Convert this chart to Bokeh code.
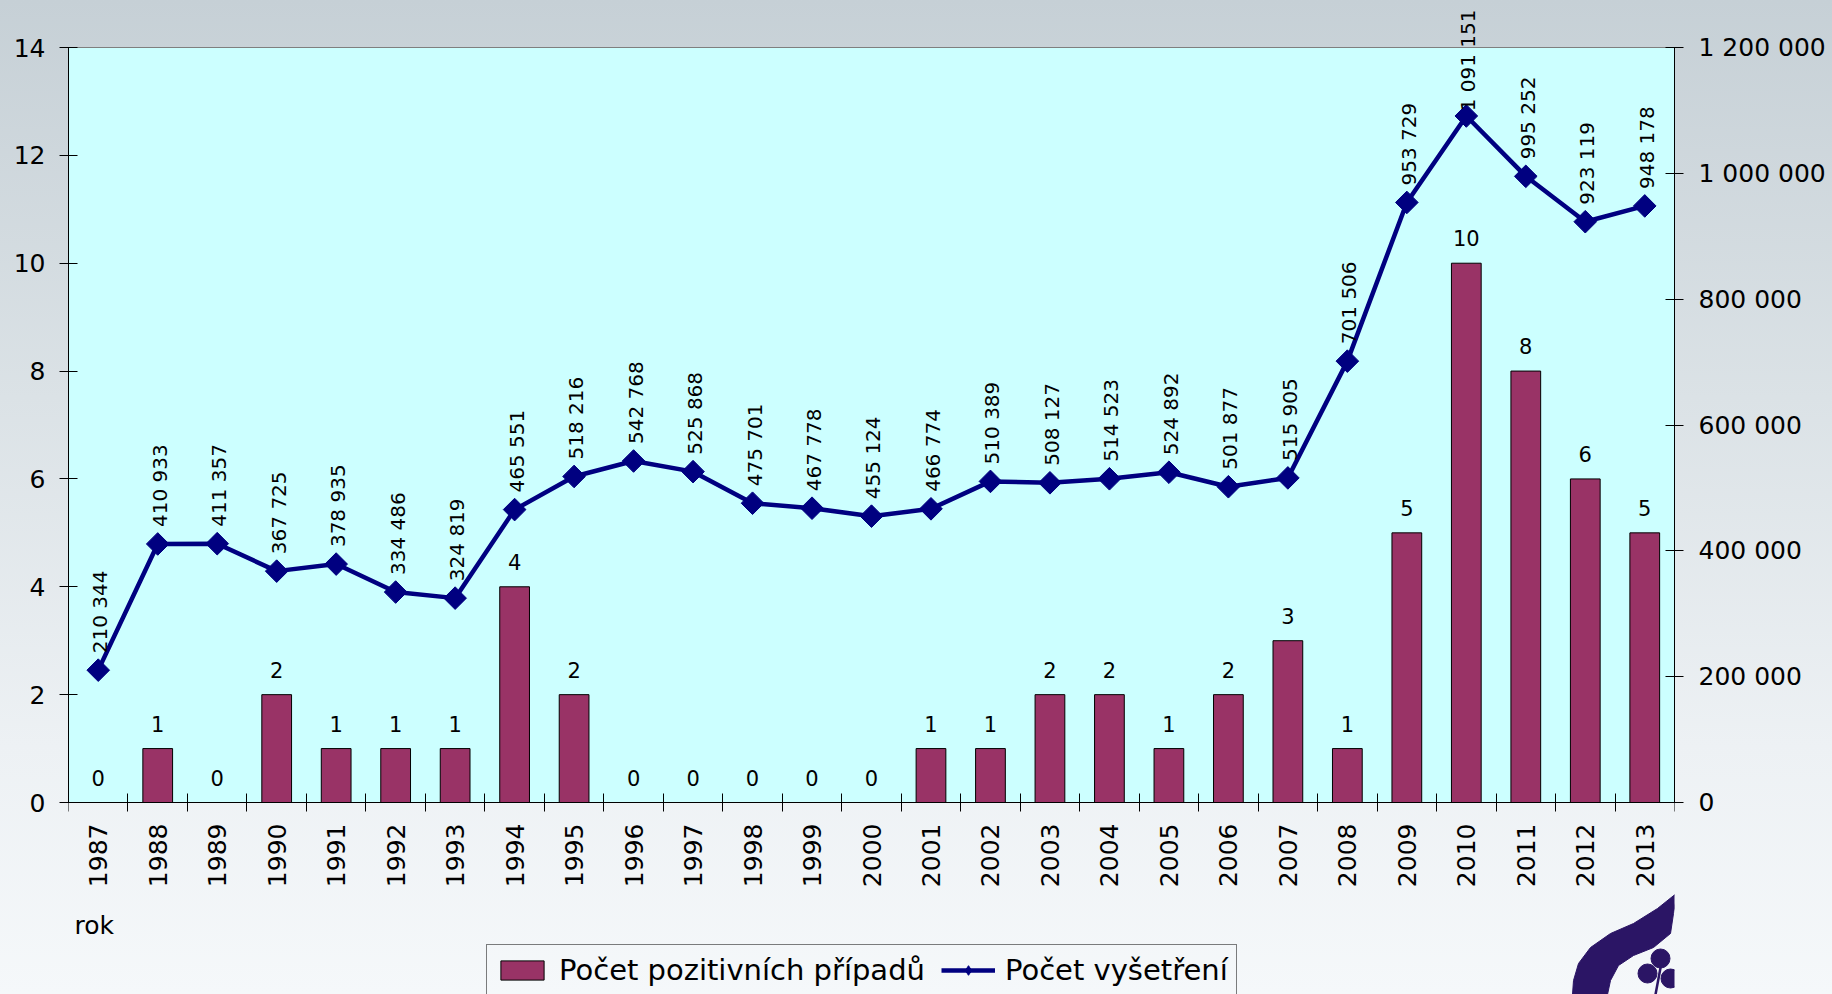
import math
from bokeh.plotting import figure
from bokeh.models import (ColumnDataSource, Range1d, LinearAxis, FixedTicker,
                          LabelSet, Label, Legend, LegendItem)
from bokeh.core.properties import value
from bokeh.embed import file_html
from bokeh.resources import INLINE

# ---- data ----
years = ["1987", "1988", "1989", "1990", "1991", "1992", "1993", "1994", "1995",
         "1996", "1997", "1998", "1999", "2000", "2001", "2002", "2003", "2004",
         "2005", "2006", "2007", "2008", "2009", "2010", "2011", "2012", "2013"]
cases = [0, 1, 0, 2, 1, 1, 1, 4, 2, 0, 0, 0, 0, 0, 1, 1, 2, 2, 1, 2, 3, 1, 5, 10, 8, 6, 5]
exams = [210344, 410933, 411357, 367725, 378935, 334486, 324819, 465551, 518216,
         542768, 525868, 475701, 467778, 455124, 466774, 510389, 508127, 514523,
         524892, 501877, 515905, 701506, 953729, 1091151, 995252, 923119, 948178]
left_ticks = [0, 2, 4, 6, 8, 10, 12, 14]
right_ticks = [0, 200000, 400000, 600000, 800000, 1000000, 1200000]
legend_labels = ["Počet pozitivních případů", "Počet vyšetření"]
x_title = "rok"

FONT = "DejaVu Sans"
BAR = "#993366"
LINE = "#000080"
LOGO = "#2b1565"

# ---- layout (page px) ----
W, H = 1832, 994
LEFT, RIGHT, TOP = 68, 158, 5
PLOT_TOP = 47      # top edge of the cyan plot area
AXIS_Y = 802       # y of the zero line
L_MAX, R_MAX = 14, 1200000
n = len(years)
px_per_unit = (AXIS_Y - PLOT_TOP) / L_MAX
col_px = (W - LEFT - RIGHT) / n
l_lo = -(H - AXIS_Y) / px_per_unit
l_hi = L_MAX + (PLOT_TOP - TOP) / px_per_unit
r_scale = R_MAX / L_MAX
LAB_PX = 20        # value label font size
LAB_GAP = 17       # gap between marker and its value label


def fmt(v):
    return f"{v:,}".replace(",", " ")


def page_to_data(px, py):
    return (px - LEFT) / col_px, (AXIS_Y - py) / px_per_unit


def label_offset(v, s):
    # keep the rotated label inside the drawing area
    text_len = sum(0.636 if ch.isdigit() else 0.318 for ch in s) * LAB_PX
    marker_y = AXIS_Y - v / R_MAX * (AXIS_Y - PLOT_TOP)
    room = marker_y - TOP - text_len - 4
    return min(LAB_GAP, room)


xc = [i + 0.5 for i in range(n)]
exam_txt = [fmt(v) for v in exams]
src = ColumnDataSource(dict(
    x=xc, cases=cases, exams=exams,
    case_txt=[str(c) for c in cases],
    exam_txt=exam_txt,
    exam_off=[label_offset(v, s) for v, s in zip(exams, exam_txt)],
))

p = figure(width=W, height=H, output_backend="svg", toolbar_location=None,
           x_range=Range1d(0, n), y_range=Range1d(l_lo, l_hi),
           min_border_left=LEFT, min_border_right=RIGHT, min_border_top=TOP,
           min_border_bottom=0)
p.background_fill_alpha = 0
p.border_fill_alpha = 0
p.styles = {"background": "linear-gradient(180deg, #c6d0d6 0%, #dbe2e6 40%, #edf1f4 75%, #f5f8fa 100%)"}
p.outline_line_color = None
p.xgrid.visible = False
p.ygrid.visible = False

p.extra_y_ranges = {"exams": Range1d(l_lo * r_scale, l_hi * r_scale)}

# cyan plot area
p.quad(left=[0], right=[n], bottom=[0], top=[L_MAX], fill_color="#ccffff",
       line_color="#7f7f7f", line_width=1)

# bars
bars = p.vbar(x="x", top="cases", width=0.5, source=src, fill_color=BAR,
              line_color="black", line_width=1)
# line + markers
line = p.line(x="x", y="exams", source=src, y_range_name="exams",
              line_color=LINE, line_width=4.5)
marks = p.scatter(x="x", y="exams", source=src, y_range_name="exams",
                  marker="square", angle=math.pi / 4, size=16,
                  fill_color=LINE, line_color=LINE)
# legend-only diamond swatch (nothing visible in the plot)
legend_marker = p.scatter(x=[float("nan")], y=[float("nan")], marker="diamond",
                          size=16, fill_color=LINE, line_color=LINE)

# axes
tick_font = "25px"
xa = p.xaxis[0]
xa.fixed_location = 0
xa.ticker = FixedTicker(ticks=xc, minor_ticks=list(range(n + 1)))
xa.major_label_overrides = {x: y for x, y in zip(xc, years)}
xa.major_label_orientation = math.pi / 2
xa.major_tick_in = 0
xa.major_tick_out = 0
xa.minor_tick_in = 9
xa.minor_tick_out = 9
xa.minor_tick_line_color = "black"
xa.axis_line_color = "black"
xa.major_label_standoff = 12
xa.major_label_text_font = FONT
xa.major_label_text_font_size = tick_font
xa.major_label_text_color = "black"

ya = p.yaxis[0]
ya.ticker = FixedTicker(ticks=left_ticks)
ya.bounds = (0, L_MAX)
ya.major_tick_in = 9
ya.major_tick_out = 9
ya.minor_tick_line_color = None
ya.axis_line_color = "black"
ya.major_tick_line_color = "black"
ya.major_label_standoff = 14
ya.major_label_text_font = FONT
ya.major_label_text_font_size = tick_font
ya.major_label_text_color = "black"

ra = LinearAxis(y_range_name="exams", ticker=FixedTicker(ticks=right_ticks),
                bounds=(0, R_MAX))
ra.major_label_overrides = {t: fmt(t) for t in right_ticks}
ra.major_tick_in = 9
ra.major_tick_out = 9
ra.minor_tick_line_color = None
ra.axis_line_color = "black"
ra.major_tick_line_color = "black"
ra.major_label_standoff = 15
ra.major_label_text_font = FONT
ra.major_label_text_font_size = tick_font
ra.major_label_text_color = "black"
p.add_layout(ra, "right")

# data labels
bar_labels = LabelSet(x="x", y="cases", text="case_txt", source=src,
                      text_align="center", text_baseline="bottom", y_offset=17,
                      text_font=value(FONT), text_font_size="21px",
                      text_color="black")
p.add_layout(bar_labels)
line_labels = LabelSet(x="x", y="exams", text="exam_txt", source=src,
                       y_range_name="exams", angle=math.pi / 2,
                       text_align="left", text_baseline="middle",
                       y_offset="exam_off", x_offset=2,
                       text_font=value(FONT), text_font_size=f"{LAB_PX}px",
                       text_color="black")
p.add_layout(line_labels)

p.add_layout(Label(x=6, y=H - 925, x_units="screen", y_units="screen",
                   text=x_title, text_baseline="middle", text_font=FONT,
                   text_font_size="25px", text_color="black"))

legend = Legend(items=[LegendItem(label=legend_labels[0], renderers=[bars]),
                       LegendItem(label=legend_labels[1], renderers=[line, legend_marker])],
                orientation="horizontal", location=(486 - LEFT, -2),
                label_text_font=FONT, label_text_font_size="29px",
                label_text_color="black",
                glyph_width=54, glyph_height=24, label_standoff=10, spacing=16,
                padding=8, margin=0, border_line_color="black",
                border_line_width=1.5, background_fill_alpha=0)
p.add_layout(legend)

# decorative logo in the bottom-right corner (page px outline)
leaf_px = [(1677, 892), (1657, 908), (1633, 923), (1610, 933), (1590, 947),
           (1578, 963), (1573, 980), (1572, 994), (1607, 994), (1610, 980),
           (1618, 965), (1633, 955), (1653, 947), (1670, 933), (1673, 913)]
leaf = [page_to_data(px, py) for px, py in leaf_px]
p.patch([q[0] for q in leaf], [q[1] for q in leaf], fill_color=LOGO,
        line_color=LOGO)
stem = [page_to_data(px, py) for px, py in [(1661, 962), (1655, 994)]]
p.line([q[0] for q in stem], [q[1] for q in stem], line_color=LOGO, line_width=2.5)
berries = [page_to_data(px, py) for px, py in [(1660, 958), (1647, 973), (1670, 978)]]
p.scatter([q[0] for q in berries], [q[1] for q in berries], marker="circle",
          size=19, fill_color=LOGO, line_color=LOGO)

open("out.html", "w").write(file_html(p, INLINE))
